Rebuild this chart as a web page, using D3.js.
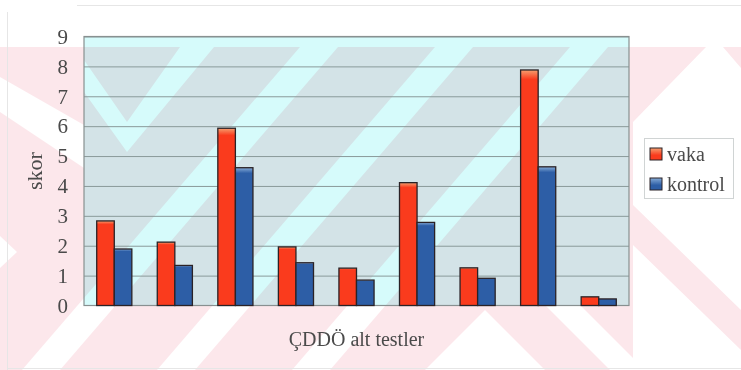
<!DOCTYPE html>
<html>
<head>
<meta charset="utf-8">
<script src="https://cdn.jsdelivr.net/npm/d3@7"></script>
<style>
  html, body { margin: 0; padding: 0; background: #ffffff; }
  svg { display: block; }
  text { font-family: "Liberation Serif", "DejaVu Serif", serif; }
</style>
</head>
<body>
<svg id="chart" width="741" height="370"></svg>
<script>
// Sub-test scores, cases vs controls
const tests = ["1", "2", "3", "4", "5", "6", "7", "8", "9"];
const seriesNames = ["vaka", "kontrol"];
const vaka = [2.83, 2.12, 5.93, 1.96, 1.25, 4.11, 1.26, 7.88, 0.29];
const kontrol = [1.89, 1.34, 4.61, 1.43, 0.85, 2.78, 0.91, 4.64, 0.22];
const yTicks = [0, 1, 2, 3, 4, 5, 6, 7, 8, 9];
const yTitle = "skor";
const xTitle = "ÇDDÖ alt testler";

const svg = d3.select("#chart");
const W = 741, H = 370;
const plot = { left: 84, right: 629, top: 36.5, bottom: 305.5 };

const x0 = d3.scaleBand().domain(tests)
  .range([plot.left, plot.right]).paddingInner(0.42).paddingOuter(0.21);
const x1 = d3.scaleBand().domain(seriesNames).range([0, x0.bandwidth()]);
const y = d3.scaleLinear().domain([0, 9]).range([plot.bottom, plot.top]);

const colors = { vaka: "#fa3b1d", kontrol: "#2d5ea6" };
const tops = { vaka: "#f5a070", kontrol: "#86acd8" };

const defs = svg.append("defs");
seriesNames.forEach(s => {
  const g = defs.append("linearGradient").attr("id", "grad-" + s)
    .attr("x1", 0).attr("y1", 0).attr("x2", 0).attr("y2", 1);
  g.append("stop").attr("offset", 0).attr("stop-color", tops[s]);
  g.append("stop").attr("offset", 0.04).attr("stop-color", colors[s]);
  g.append("stop").attr("offset", 1).attr("stop-color", colors[s]);
  const lg = defs.append("linearGradient").attr("id", "lgrad-" + s)
    .attr("x1", 0).attr("y1", 0).attr("x2", 0).attr("y2", 1);
  lg.append("stop").attr("offset", 0).attr("stop-color", tops[s]);
  lg.append("stop").attr("offset", 0.6).attr("stop-color", colors[s]);
});

// page background
svg.append("rect").attr("width", W).attr("height", H).attr("fill", "#ffffff");

// plot area fill
svg.append("rect")
  .attr("x", plot.left).attr("y", plot.top)
  .attr("width", plot.right - plot.left).attr("height", plot.bottom - plot.top)
  .attr("fill", "#d6fbfb");

// background watermark: pale pink field with light diagonal cut-outs
const wmHoles = [
  [[0, 77], [0, 112], [84, 168], [84, 125]],
  [[0, 236], [17, 252], [0, 268]],
  [[84, 60], [127, 122], [180, 47], [214, 47], [127, 152], [84, 92]],
  [[300, 47], [338, 47], [60, 370], [22, 370]],
  [[435, 47], [473, 47], [195, 370], [157, 370]],
  [[570, 47], [608, 47], [330, 370], [292, 370]],
  [[425, 370], [485, 310], [545, 370]],
  [[545, 305], [580, 305], [645, 370], [610, 370]],
  [[633, 47], [741, 47], [741, 370], [633, 370]]
];
const wmBands = [
  [[633, 47], [706, 47], [633, 122]],
  [[723, 47], [741, 47], [741, 68]],
  [[633, 205], [633, 245], [741, 350], [741, 310]]
];
const mask = defs.append("mask").attr("id", "wm-mask")
  .attr("maskUnits", "userSpaceOnUse").attr("x", 0).attr("y", 0)
  .attr("width", W).attr("height", H);
mask.append("rect").attr("width", W).attr("height", H).attr("fill", "#fff");
mask.selectAll("polygon").data(wmHoles).join("polygon")
  .attr("points", d => d.join(" ")).attr("fill", "#000");

const wm = svg.append("g").style("mix-blend-mode", "multiply");
wm.append("rect").attr("x", 0).attr("y", 47).attr("width", W).attr("height", H - 47)
  .attr("fill", "#fce7eb").attr("mask", "url(#wm-mask)");
wm.selectAll("polygon").data(wmBands).join("polygon")
  .attr("points", d => d.join(" ")).attr("fill", "#fce7eb");

// frame lines of the page
svg.append("path")
  .attr("d", `M77,5.5H741M7.5,12V370M7,368.5H741`)
  .attr("stroke", "#e6e6e6").attr("stroke-width", 1).attr("fill", "none");

// horizontal gridlines
svg.append("g")
  .attr("transform", `translate(${plot.left},0)`)
  .call(d3.axisLeft(y).tickValues(yTicks.slice(1)).tickSize(-(plot.right - plot.left)).tickFormat(""))
  .call(g => g.select(".domain").remove())
  .call(g => g.selectAll("line").attr("stroke", "#8a9a9a").attr("stroke-width", 1));

// plot border
svg.append("rect")
  .attr("x", plot.left).attr("y", plot.top)
  .attr("width", plot.right - plot.left).attr("height", plot.bottom - plot.top)
  .attr("fill", "none").attr("stroke", "#889090").attr("stroke-width", 1.2);

// bars
const rows = tests.map((t, i) => ({ test: t, vaka: vaka[i], kontrol: kontrol[i] }));
svg.append("g").selectAll("g").data(rows).join("g")
  .attr("transform", d => `translate(${x0(d.test)},0)`)
  .selectAll("rect")
  .data(d => seriesNames.map(s => ({ key: s, value: d[s] })))
  .join("rect")
  .attr("x", d => x1(d.key))
  .attr("y", d => y(d.value))
  .attr("width", x1.bandwidth())
  .attr("height", d => y(0) - y(d.value))
  .attr("fill", d => `url(#grad-${d.key})`)
  .attr("stroke", "#2a2226").attr("stroke-width", 1.3);

// y tick labels
svg.append("g")
  .attr("transform", `translate(${plot.left},0)`)
  .call(d3.axisLeft(y).tickValues(yTicks).tickSize(0).tickPadding(16).tickFormat(d3.format("d")))
  .call(g => g.select(".domain").remove())
  .call(g => g.selectAll("text")
    .attr("font-family", "Liberation Serif, serif")
    .attr("font-size", 21).attr("fill", "#4a4a4a"));

// axis titles
svg.append("text")
  .attr("transform", `translate(42,${(plot.top + plot.bottom) / 2}) rotate(-90)`)
  .attr("text-anchor", "middle")
  .attr("font-size", 22).attr("fill", "#4a4a4a").text(yTitle);

svg.append("text")
  .attr("x", (plot.left + plot.right) / 2).attr("y", 346)
  .attr("text-anchor", "middle")
  .attr("font-size", 20).attr("fill", "#4a4a4a").text(xTitle);

// legend
const legend = svg.append("g");
legend.append("rect")
  .attr("x", 644.5).attr("y", 138.5).attr("width", 89).attr("height", 60)
  .attr("fill", "#ffffff").attr("stroke", "#d0d4d4").attr("stroke-width", 1);
const items = legend.selectAll("g.item").data(seriesNames).join("g")
  .attr("class", "item")
  .attr("transform", (d, i) => `translate(650,${148 + i * 30})`);
items.append("rect")
  .attr("width", 12).attr("height", 12)
  .attr("fill", d => `url(#lgrad-${d})`)
  .attr("stroke", "#2a2226").attr("stroke-width", 1);
items.append("text")
  .attr("x", 17).attr("y", 13)
  .attr("font-size", 20).attr("fill", "#4a4a4a")
  .text(d => d);
</script>
</body>
</html>
